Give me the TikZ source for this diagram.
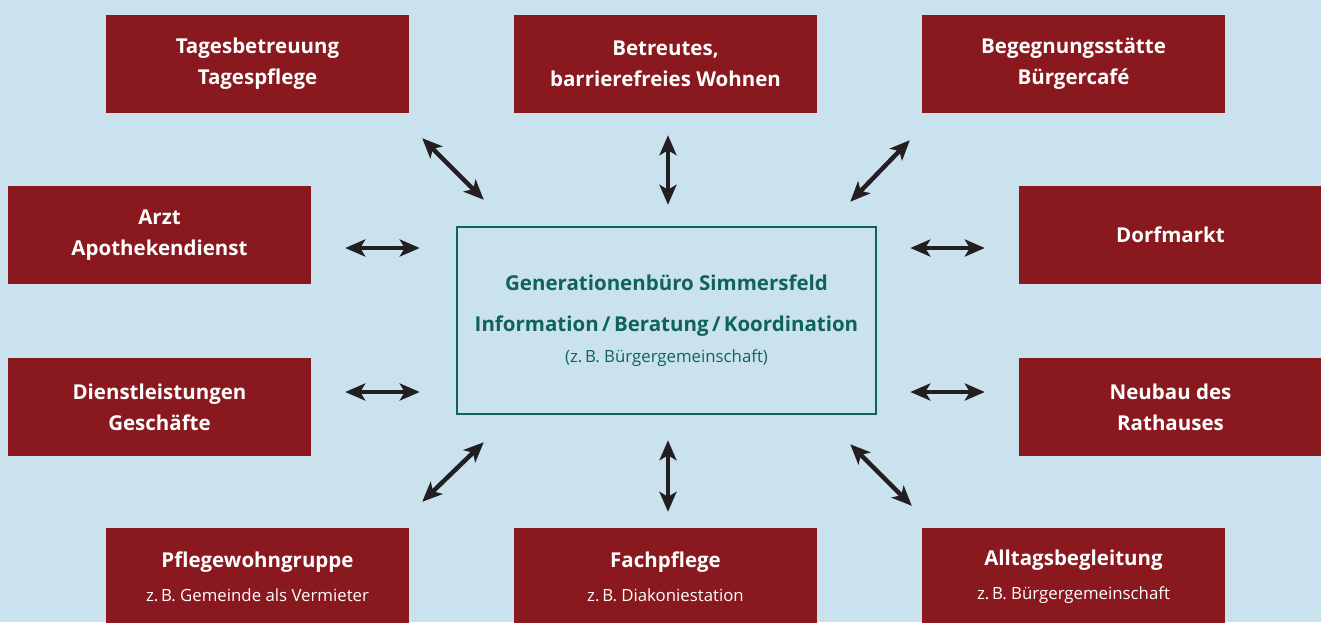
\documentclass[tikz,border=0pt]{standalone}
\usepackage{fontspec}
\setmainfont{Open Sans}
\usetikzlibrary{positioning, calc, arrows.meta}
\definecolor{sky}{HTML}{CAE2EE}
\definecolor{wine}{HTML}{8A181F}
\definecolor{petrol}{HTML}{10625F}
\definecolor{ink}{HTML}{231F20}
\tikzset{
service/.style = {rectangle, fill = wine, text = white, inner sep = 0pt,
   minimum width = 303pt, minimum height = 98pt, align = center,
   font = \fontsize{20.5}{31}\selectfont\bfseries},
office/.style = {rectangle, draw = petrol, line width = 2.5pt, text = petrol,
   minimum width = 419pt, minimum height = 187pt, align = center,
   font = \fontsize{20.5}{31}\selectfont\bfseries},
link/.style = {{Stealth[length = 20pt, width = 17pt, inset = 5pt]}-{Stealth[length = 20pt, width = 17pt, inset = 5pt]},
   line width = 4.5pt, draw = ink}
}
\newcommand\note[1]{{\fontsize{16.8}{16}\selectfont\mdseries #1}}

\begin{document}
\begin{tikzpicture}[x = 1pt, y = -1pt]

%% Background
\fill [sky] (0,0) rectangle (1321,622);
\useasboundingbox (0,0) rectangle (1321,622);

%% Centre
\node [office] (office) at (666.5, 320.5) {%
   Generationenbüro Simmersfeld\\[10pt]
   Information\,/\,Beratung\,/\,Koordination\\
   \note{(z.\,B. Bürgergemeinschaft)}};

%% Top row
\node [service] (care)  at (257.5, 64) {Tagesbetreuung\\Tagespflege};
\node [service] (flats) at (665.5, 64) {Betreutes,\\barrierefreies Wohnen};
\node [service] (cafe)  at (1073.5, 64) {Begegnungsstätte\\Bürgercafé};

%% Sides
\node [service] (doctor)   at (159.5, 235) {Arzt\\Apothekendienst};
\node [service] (market)   at (1170.5, 235) {Dorfmarkt};
\node [service] (shops)    at (159.5, 407) {Dienstleistungen\\Geschäfte};
\node [service] (townhall) at (1170.5, 407) {Neubau des\\Rathauses};

%% Bottom row
\node [service] (group)   at (257.5, 577) {Pflegewohngruppe\\[3pt]\note{z.\,B. Gemeinde als Vermieter}};
\node [service] (nursing) at (665.5, 577) {Fachpflege\\[3pt]\note{z.\,B. Diakoniestation}};
\node [service] (escort)  at (1073.5, 577) {Alltagsbegleitung\\[3pt]\note{z.\,B. Bürgergemeinschaft}};

%% Links
\draw [link] ($(care.south east)+(13,25)$) -- ($(office.north west)+(28,-26)$);
\draw [link] ($(flats.south)+(2.5,22)$) -- ($(office.north)+(1.5,-21)$);
\draw [link] ($(cafe.south west)+(-12,27)$) -- ($(office.north east)+(-27,-24)$);
\draw [link] ($(doctor.east)+(34,13)$) -- ($(office.west)+(-36,-72.5)$);
\draw [link] ($(office.east)+(33,-72.5)$) -- ($(market.west)+(-34,13)$);
\draw [link] ($(shops.east)+(34,-15)$) -- ($(office.west)+(-36,71.5)$);
\draw [link] ($(office.east)+(33,71.5)$) -- ($(townhall.west)+(-34,-15)$);
\draw [link] ($(office.south west)+(28,27)$) -- ($(group.north east)+(13,-26)$);
\draw [link] ($(office.south)+(1.5,25)$) -- ($(nursing.north)+(2.5,-16)$);
\draw [link] ($(office.south east)+(-27,29)$) -- ($(escort.north west)+(-10,-22)$);

\end{tikzpicture}
\end{document}
